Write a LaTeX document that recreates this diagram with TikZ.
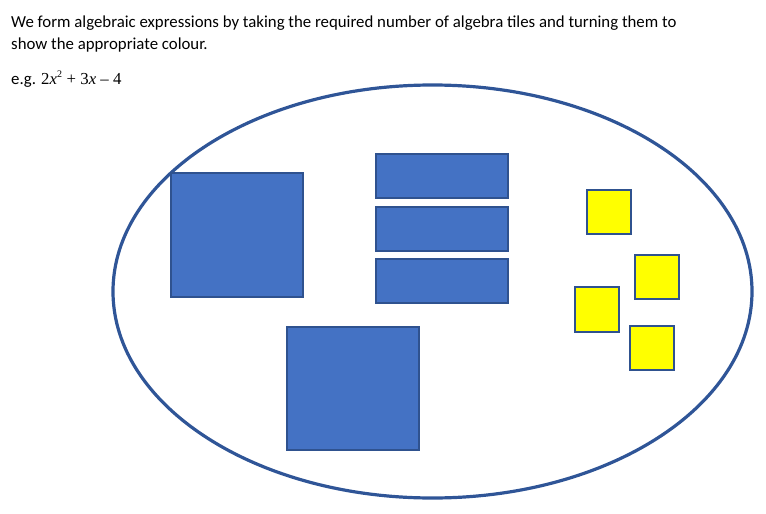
\documentclass[tikz,border=0pt]{standalone}
\usepackage{fontspec}
\setmainfont{Carlito}
\newfontfamily\mathserif{Liberation Serif}
\definecolor{tileblue}{HTML}{4472C4}
\definecolor{tileedge}{HTML}{2F528F}
\definecolor{ringblue}{HTML}{2F5597}
\definecolor{tileyellow}{HTML}{FFFF00}
\begin{document}
\begin{tikzpicture}[x=1pt,y=-1pt,
  bluetile/.style={draw=tileedge,line width=1.6pt,fill=tileblue},
  yellowtile/.style={draw=tileedge,line width=1.6pt,fill=tileyellow},
  txt/.style={anchor=base west,inner sep=0pt,font=\fontsize{16.8}{22}\selectfont}]
\useasboundingbox (0,0) rectangle (766,514);
\node[txt] (l1) at (11,27.3) {We form algebraic expressions by taking the required number of algebra tiles and turning them to};
\node[txt] (l2) at (11,49.3) {show the appropriate colour.};
\node[txt] (l3) at (11,84) {e.g. {\mathserif 2\textit{x}\textsuperscript{\fontsize{10}{10}\selectfont 2} + 3\textit{x} \textendash{} 4}};
\draw[ringblue,line width=3.2pt] (432.5,291.5) ellipse [x radius=319.5, y radius=206.5];
\draw[bluetile] (171,173) rectangle (303,297);
\draw[bluetile] (287,327) rectangle (419,450);
\draw[bluetile] (376,154) rectangle (508,198);
\draw[bluetile] (376,207) rectangle (508,251);
\draw[bluetile] (376,259) rectangle (508,303);
\draw[yellowtile] (587,190) rectangle (631,234);
\draw[yellowtile] (635,255) rectangle (679,299);
\draw[yellowtile] (575,287) rectangle (619,332);
\draw[yellowtile] (630,326) rectangle (674,370);
\end{tikzpicture}
\end{document}
